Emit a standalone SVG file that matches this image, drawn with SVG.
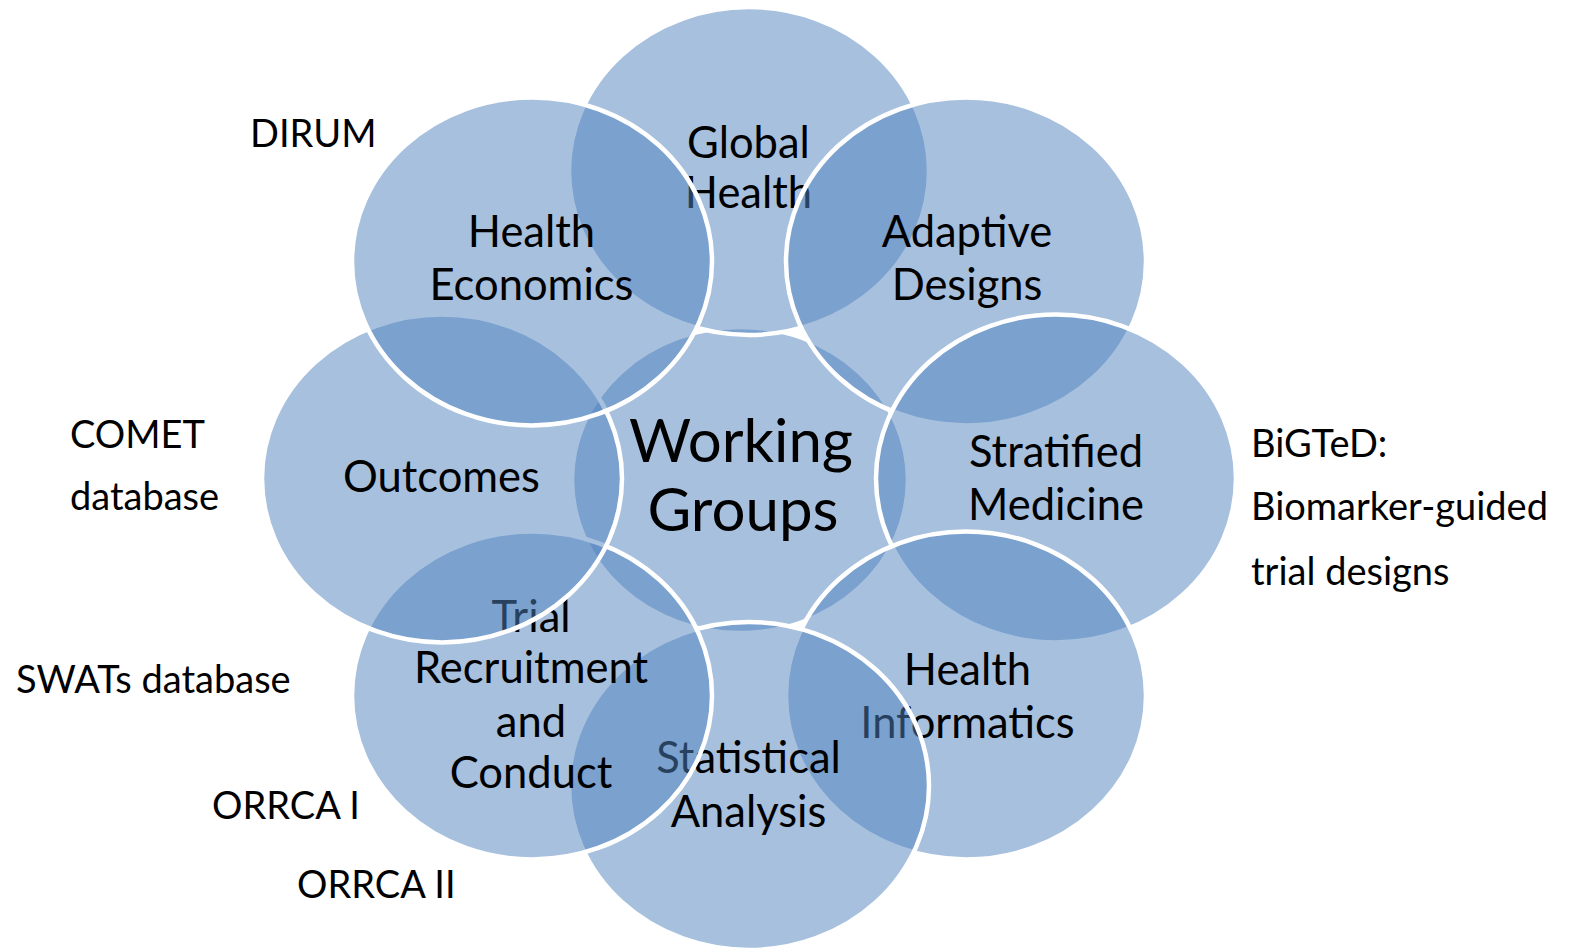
<svg xmlns="http://www.w3.org/2000/svg" width="1576" height="951" viewBox="0 0 1576 951">
<style>
.e{fill:#4F81BD;fill-opacity:0.5;stroke:#FFFFFF;stroke-width:4.5}
.t{font-family:Lato,"Liberation Sans",sans-serif;font-size:43.5px;fill:#000;text-anchor:middle}
.c{font-family:Lato,"Liberation Sans",sans-serif;font-size:60px;fill:#000;text-anchor:middle}
.s{font-family:Lato,"Liberation Sans",sans-serif;font-size:38px;fill:#000}
</style>
<rect width="1576" height="951" fill="#FFFFFF"/>
<g id="center">
<ellipse class="e" cx="740" cy="480" rx="168" ry="153"/>
<text class="c" x="741" y="462">Working</text>
<text class="c" x="743" y="531">Groups</text>
</g>
<g id="global-health">
<ellipse class="e" cx="749" cy="171" rx="180" ry="164"/>
<text class="t" x="748.5" y="158">Global</text>
<text class="t" x="748.5" y="208">Health</text>
</g>
<g id="adaptive-designs">
<ellipse class="e" cx="966" cy="261.5" rx="180" ry="164"/>
<text class="t" x="967" y="247">Adaptive</text>
<text class="t" x="967" y="300">Designs</text>
</g>
<g id="stratified-medicine">
<ellipse class="e" cx="1056" cy="478.5" rx="180" ry="164"/>
<text class="t" x="1056" y="467">Stratified</text>
<text class="t" x="1056" y="520">Medicine</text>
</g>
<g id="health-informatics">
<ellipse class="e" cx="966" cy="695.5" rx="180" ry="164"/>
<text class="t" x="967.5" y="685">Health</text>
<text class="t" x="967.5" y="738">Informatics</text>
</g>
<g id="statistical-analysis">
<ellipse class="e" cx="749" cy="786" rx="180" ry="164"/>
<text class="t" x="748.5" y="773">Statistical</text>
<text class="t" x="748.5" y="827">Analysis</text>
</g>
<g id="trial-recruitment">
<ellipse class="e" cx="532" cy="695.5" rx="180" ry="164"/>
<text class="t" x="531" y="632">Trial</text>
<text class="t" x="531" y="683">Recruitment</text>
<text class="t" x="531" y="737">and</text>
<text class="t" x="531" y="788">Conduct</text>
</g>
<g id="outcomes">
<ellipse class="e" cx="442" cy="478.5" rx="180" ry="164"/>
<text class="t" x="441.5" y="492">Outcomes</text>
</g>
<g id="health-economics">
<ellipse class="e" cx="532" cy="261.5" rx="180" ry="164"/>
<text class="t" x="531.5" y="247">Health</text>
<text class="t" x="531.5" y="300">Economics</text>
</g>
<g id="side-labels">
<text class="s" x="250" y="147">DIRUM</text>
<text class="s" x="70" y="448">COMET</text>
<text class="s" x="70" y="510">database</text>
<text class="s" x="16" y="693">SWATs database</text>
<text class="s" x="212" y="819">ORRCA I</text>
<text class="s" x="297" y="898">ORRCA II</text>
<text class="s" x="1251" y="457">BiGTeD:</text>
<text class="s" x="1251" y="520">Biomarker-guided</text>
<text class="s" x="1251" y="585">trial designs</text>
</g>
<g id="connectors"></g>
</svg>
